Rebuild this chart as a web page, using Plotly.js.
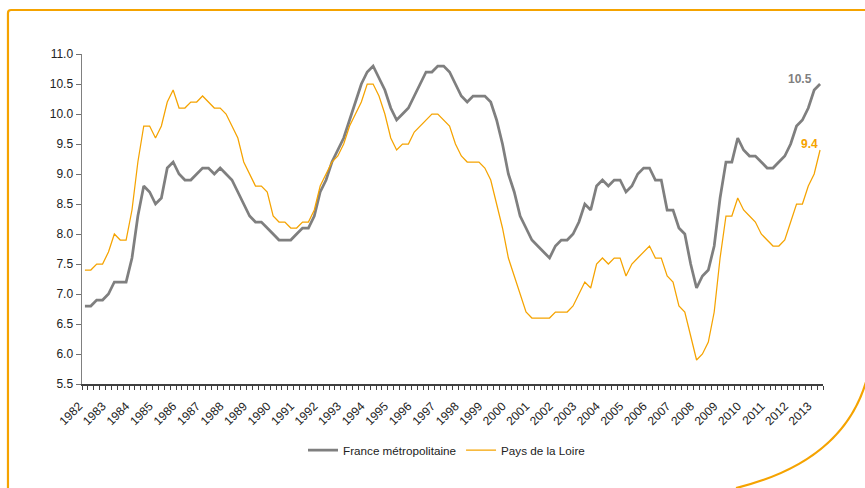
<!DOCTYPE html>
<html>
<head>
<meta charset="utf-8">
<script src="https://cdn.plot.ly/plotly-3.0.1.min.js"></script>
<style>
  html, body { margin: 0; padding: 0; background: #ffffff; }
  #chart { width: 865px; height: 488px; }
</style>
</head>
<body>
<div id="chart"></div>
<script>
// Year labels (one per year, first quarter), 1982 .. 2013
const yearLabels = ['1982','1983','1984','1985','1986','1987','1988','1989','1990','1991',
  '1992','1993','1994','1995','1996','1997','1998','1999','2000','2001','2002','2003',
  '2004','2005','2006','2007','2008','2009','2010','2011','2012','2013'];

// Quarterly unemployment rate (%), 1982 T1 .. 2013 T2
const franceMetro = [
  6.8,6.8,6.9,6.9, 7.0,7.2,7.2,7.2, 7.6,8.3,8.8,8.7, 8.5,8.6,9.1,9.2,
  9.0,8.9,8.9,9.0, 9.1,9.1,9.0,9.1, 9.0,8.9,8.7,8.5, 8.3,8.2,8.2,8.1,
  8.0,7.9,7.9,7.9, 8.0,8.1,8.1,8.3, 8.7,8.9,9.2,9.4, 9.6,9.9,10.2,10.5,
  10.7,10.8,10.6,10.4, 10.1,9.9,10.0,10.1, 10.3,10.5,10.7,10.7, 10.8,10.8,10.7,10.5,
  10.3,10.2,10.3,10.3, 10.3,10.2,9.9,9.5, 9.0,8.7,8.3,8.1, 7.9,7.8,7.7,7.6,
  7.8,7.9,7.9,8.0, 8.2,8.5,8.4,8.8, 8.9,8.8,8.9,8.9, 8.7,8.8,9.0,9.1,
  9.1,8.9,8.9,8.4, 8.4,8.1,8.0,7.5, 7.1,7.3,7.4,7.8, 8.6,9.2,9.2,9.6,
  9.4,9.3,9.3,9.2, 9.1,9.1,9.2,9.3, 9.5,9.8,9.9,10.1, 10.4,10.5
];
const paysDeLaLoire = [
  7.4,7.4,7.5,7.5, 7.7,8.0,7.9,7.9, 8.4,9.2,9.8,9.8, 9.6,9.8,10.2,10.4,
  10.1,10.1,10.2,10.2, 10.3,10.2,10.1,10.1, 10.0,9.8,9.6,9.2, 9.0,8.8,8.8,8.7,
  8.3,8.2,8.2,8.1, 8.1,8.2,8.2,8.4, 8.8,9.0,9.2,9.3, 9.5,9.8,10.0,10.2,
  10.5,10.5,10.3,10.0, 9.6,9.4,9.5,9.5, 9.7,9.8,9.9,10.0, 10.0,9.9,9.8,9.5,
  9.3,9.2,9.2,9.2, 9.1,8.9,8.5,8.1, 7.6,7.3,7.0,6.7, 6.6,6.6,6.6,6.6,
  6.7,6.7,6.7,6.8, 7.0,7.2,7.1,7.5, 7.6,7.5,7.6,7.6, 7.3,7.5,7.6,7.7,
  7.8,7.6,7.6,7.3, 7.2,6.8,6.7,6.3, 5.9,6.0,6.2,6.7, 7.6,8.3,8.3,8.6,
  8.4,8.3,8.2,8.0, 7.9,7.8,7.8,7.9, 8.2,8.5,8.5,8.8, 9.0,9.4
];
const seriesNames = ['France métropolitaine', 'Pays de la Loire'];

const GRAY = '#7f7f7f';
const ORANGE = '#f5a300';
const FONT = '"Liberation Sans", Arial, sans-serif';

const W = 865, H = 488;
const M = { l: 82, r: 42, t: 54, b: 104 };
const PW = W - M.l - M.r, PH = H - M.t - M.b;
// pixel -> paper helpers for the decorative frame
const px = x => ((x - M.l) / PW).toFixed(4);
const py = y => ((H - M.b - y) / PH).toFixed(4);

const idx = franceMetro.map((_, i) => i);
const nQ = franceMetro.length;

// tick marks at every quarter boundary, year labels at first quarter
const tickvals = [], ticktext = [];
for (let k = 0; k <= nQ; k++) {
  tickvals.push(k - 0.5);
  ticktext.push(k % 4 === 0 && yearLabels[k / 4] ? yearLabels[k / 4] : '');
}

const traces = [
  { x: idx, y: franceMetro, type: 'scatter', mode: 'lines', name: seriesNames[0],
    line: { color: GRAY, width: 2.75 }, hoverinfo: 'skip' },
  { x: idx, y: paysDeLaLoire, type: 'scatter', mode: 'lines', name: seriesNames[1],
    line: { color: ORANGE, width: 1.25 }, hoverinfo: 'skip' }
];

const lastF = franceMetro[nQ - 1], lastP = paysDeLaLoire[nQ - 1];

const layout = {
  width: W, height: H,
  margin: M,
  paper_bgcolor: '#ffffff', plot_bgcolor: '#ffffff',
  font: { family: FONT, size: 12, color: '#222222' },
  showlegend: true,
  legend: {
    orientation: 'h', x: (303 - M.l) / PW, xanchor: 'left',
    y: (H - M.b - 450) / PH, yanchor: 'middle',
    font: { family: FONT, size: 11.7, color: '#222222' },
    bgcolor: 'rgba(0,0,0,0)', itemwidth: 30
  },
  xaxis: {
    type: 'linear', range: [-0.5, nQ - 0.5],
    tickmode: 'array', tickvals: tickvals, ticktext: ticktext,
    tickangle: -45, ticks: 'outside', ticklen: 4, tickwidth: 1, tickcolor: '#404040',
    ticklabelstandoff: 5, ticklabelshift: -3,
    showline: true, linecolor: '#404040', linewidth: 1.5,
    showgrid: false, zeroline: false,
    tickfont: { family: FONT, size: 12, color: '#222222' }
  },
  yaxis: {
    range: [5.5, 11], dtick: 0.5, tick0: 5.5, tickformat: '.1f',
    ticks: 'outside', ticklen: 5, tickwidth: 1, tickcolor: '#707070',
    showline: true, linecolor: '#808080', linewidth: 1.5,
    showgrid: false, zeroline: false,
    tickfont: { family: FONT, size: 12, color: '#222222' }
  },
  annotations: [
    { x: nQ - 1, y: lastF, xref: 'x', yref: 'y', text: '<b>' + lastF.toFixed(1) + '</b>',
      showarrow: false, xanchor: 'right', yanchor: 'middle', xshift: -6, yshift: 5,
      font: { family: FONT, size: 12, color: GRAY } },
    { x: nQ - 1, y: lastP, xref: 'x', yref: 'y', text: '<b>' + lastP.toFixed(1) + '</b>',
      showarrow: false, xanchor: 'right', yanchor: 'middle', xshift: 0, yshift: 6,
      font: { family: FONT, size: 12, color: ORANGE } }
  ],
  shapes: [
    { type: 'path', xref: 'paper', yref: 'paper',
      path: `M ${px(866)} ${py(10)} L ${px(11)} ${py(10)} Q ${px(8)} ${py(10)} ${px(8)} ${py(13)} L ${px(8)} ${py(490)}`,
      line: { color: ORANGE, width: 2.2 } },
    { type: 'path', xref: 'paper', yref: 'paper',
      path: `M ${px(736)} ${py(488)} Q ${px(842)} ${py(462)} ${px(866)} ${py(382)}`,
      line: { color: ORANGE, width: 2.2 } }
  ]
};

Plotly.newPlot('chart', traces, layout, { displayModeBar: false, staticPlot: true });
</script>
</body>
</html>
